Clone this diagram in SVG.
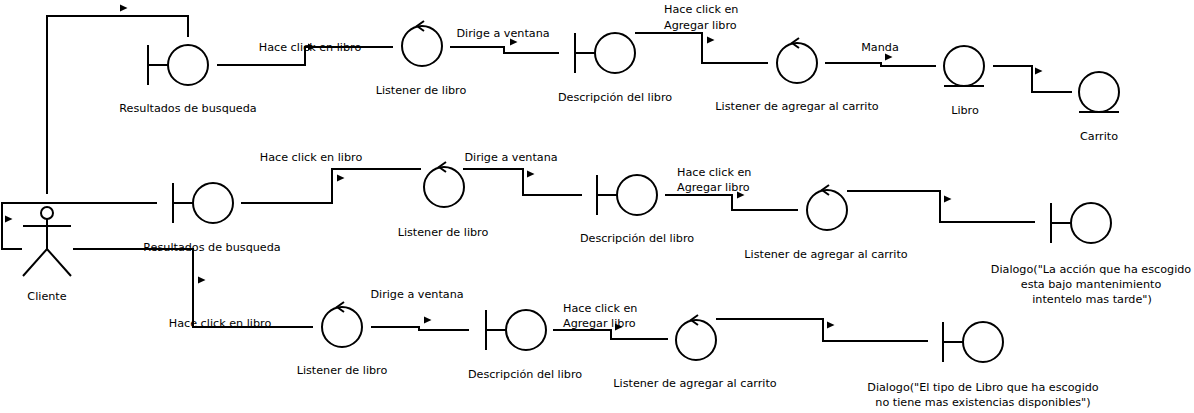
<svg xmlns="http://www.w3.org/2000/svg" xmlns:xlink="http://www.w3.org/1999/xlink" width="1194" height="413" viewBox="0 0 1194 413">
<style>
  .ln{fill:none;stroke:#000;stroke-width:2}
  .sh{fill:none;stroke:#000;stroke-width:2}
  text{font-family:"DejaVu Sans",Verdana,sans-serif;font-size:11.2px;fill:#000}
  .c{text-anchor:middle}
</style>
<defs>
  <path id="ah" d="M0,-3.5 L7.5,0 L0,3.5 Z" fill="#000"/>
</defs>
<rect width="1194" height="413" fill="#fff"/>
<g id="connectors">
  <!-- row 1 -->
  <polyline class="ln" points="47,194 47,16 188,16 188,37"/>
  <use xlink:href="#ah" x="120" y="8"/>
  <polyline class="ln" points="217,65 305,65 305,47 393,47"/>
  <use xlink:href="#ah" x="308" y="47"/>
  <text class="c" x="310" y="51">Hace click en libro</text>
  <polyline class="ln" points="450,47 504,47 504,53 559,53"/>
  <use xlink:href="#ah" x="510" y="42"/>
  <text class="c" x="503" y="37">Dirige a ventana</text>
  <polyline class="ln" points="635,33 702,33 702,63 768,63"/>
  <use xlink:href="#ah" x="707" y="40"/>
  <text x="664" y="13">Hace click en</text>
  <text x="664" y="29">Agregar libro</text>
  <polyline class="ln" points="825,63 881,63 881,66 936,66"/>
  <use xlink:href="#ah" x="885" y="57"/>
  <text class="c" x="880" y="51">Manda</text>
  <polyline class="ln" points="993,66 1032,66 1032,92 1072,92"/>
  <use xlink:href="#ah" x="1035" y="71"/>
  <!-- row 2 -->
  <polyline class="ln" points="157,203 2,203 2,249 22,249"/>
  <use xlink:href="#ah" x="5" y="219"/>
  <polyline class="ln" points="241,203 332,203 332,169 421,169"/>
  <use xlink:href="#ah" x="337" y="178"/>
  <text class="c" x="311" y="161">Hace click en libro</text>
  <polyline class="ln" points="463,169 523,169 523,195 582,195"/>
  <use xlink:href="#ah" x="527" y="174"/>
  <text class="c" x="511" y="161">Dirige a ventana</text>
  <polyline class="ln" points="665,195 732,195 732,210 798,210"/>
  <use xlink:href="#ah" x="737" y="195"/>
  <text x="677" y="176">Hace click en</text>
  <text x="677" y="191">Agregar libro</text>
  <polyline class="ln" points="847,191 940,191 940,222 1035,222"/>
  <use xlink:href="#ah" x="944" y="199"/>
  <!-- row 3 -->
  <polyline class="ln" points="73,249 193,249 193,327 313,327"/>
  <use xlink:href="#ah" x="198" y="280"/>
  <text class="c" x="220" y="327">Hace click en libro</text>
  <polyline class="ln" points="371,327 419,327 419,330 469,330"/>
  <use xlink:href="#ah" x="424" y="320"/>
  <text class="c" x="417" y="298">Dirige a ventana</text>
  <polyline class="ln" points="553,330 611,330 611,339 668,339"/>
  <use xlink:href="#ah" x="615" y="327"/>
  <text x="563" y="312">Hace click en</text>
  <text x="563" y="327">Agregar libro</text>
  <polyline class="ln" points="716,319 823,319 823,341 928,341"/>
  <use xlink:href="#ah" x="827" y="325"/>
</g>
<g id="cliente">
  <circle class="sh" cx="47" cy="213" r="6"/>
  <line class="sh" x1="47" y1="219" x2="47" y2="249"/>
  <line class="sh" x1="23" y1="226" x2="71" y2="226"/>
  <polyline class="sh" points="23,276 47,249 71,276"/>
  <text class="c" x="47" y="300">Cliente</text>
</g>
<g id="resultados1">
  <line class="sh" x1="148" y1="45" x2="148" y2="85"/>
  <line class="sh" x1="148" y1="65" x2="168" y2="65"/>
  <circle class="sh" cx="188" cy="65" r="20"/>
  <text class="c" x="188" y="112">Resultados de busqueda</text>
</g>
<g id="listenerLibro1">
  <circle class="sh" cx="422" cy="46" r="20"/>
  <polyline class="sh" points="424,21 417,26 424,31"/>
  <text class="c" x="421" y="94">Listener de libro</text>
</g>
<g id="descripcion1">
  <line class="sh" x1="575" y1="33" x2="575" y2="73"/>
  <line class="sh" x1="575" y1="53" x2="595" y2="53"/>
  <circle class="sh" cx="615" cy="53" r="20"/>
  <text class="c" x="615" y="101">Descripción del libro</text>
</g>
<g id="listenerAgregar1">
  <circle class="sh" cx="797" cy="63" r="20"/>
  <polyline class="sh" points="799,38 792,43 799,48"/>
  <text class="c" x="797" y="110">Listener de agregar al carrito</text>
</g>
<g id="libro">
  <circle class="sh" cx="964" cy="66" r="20"/>
  <line class="sh" x1="944" y1="86" x2="984" y2="86"/>
  <text class="c" x="965" y="114">Libro</text>
</g>
<g id="carrito">
  <circle class="sh" cx="1099" cy="92" r="20"/>
  <line class="sh" x1="1079" y1="112" x2="1119" y2="112"/>
  <text class="c" x="1099" y="140">Carrito</text>
</g>
<g id="resultados2">
  <line class="sh" x1="173" y1="183" x2="173" y2="223"/>
  <line class="sh" x1="173" y1="203" x2="193" y2="203"/>
  <circle class="sh" cx="213" cy="203" r="20"/>
  <text class="c" x="212" y="251">Resultados de busqueda</text>
</g>
<g id="listenerLibro2">
  <circle class="sh" cx="444" cy="187" r="20"/>
  <polyline class="sh" points="446,162 439,167 446,172"/>
  <text class="c" x="443" y="236">Listener de libro</text>
</g>
<g id="descripcion2">
  <line class="sh" x1="597" y1="175" x2="597" y2="215"/>
  <line class="sh" x1="597" y1="195" x2="617" y2="195"/>
  <circle class="sh" cx="637" cy="195" r="20"/>
  <text class="c" x="637" y="242">Descripción del libro</text>
</g>
<g id="listenerAgregar2">
  <circle class="sh" cx="827" cy="210" r="20"/>
  <polyline class="sh" points="829,185 822,190 829,195"/>
  <text class="c" x="826" y="258">Listener de agregar al carrito</text>
</g>
<g id="dialogo1">
  <line class="sh" x1="1051" y1="203" x2="1051" y2="243"/>
  <line class="sh" x1="1051" y1="223" x2="1071" y2="223"/>
  <circle class="sh" cx="1091" cy="223" r="20"/>
  <text class="c" x="1091" y="273">Dialogo("La acción que ha escogido</text>
  <text class="c" x="1091" y="288">esta bajo mantenimiento</text>
  <text class="c" x="1092" y="303">intentelo mas tarde")</text>
</g>
<g id="listenerLibro3">
  <circle class="sh" cx="342" cy="327" r="20"/>
  <polyline class="sh" points="344,302 337,307 344,312"/>
  <text class="c" x="342" y="374">Listener de libro</text>
</g>
<g id="descripcion3">
  <line class="sh" x1="486" y1="310" x2="486" y2="350"/>
  <line class="sh" x1="486" y1="330" x2="506" y2="330"/>
  <circle class="sh" cx="526" cy="330" r="20"/>
  <text class="c" x="525" y="378">Descripción del libro</text>
</g>
<g id="listenerAgregar3">
  <circle class="sh" cx="696" cy="340" r="20"/>
  <polyline class="sh" points="698,315 691,320 698,325"/>
  <text class="c" x="695" y="387">Listener de agregar al carrito</text>
</g>
<g id="dialogo2">
  <line class="sh" x1="943" y1="322" x2="943" y2="362"/>
  <line class="sh" x1="943" y1="342" x2="963" y2="342"/>
  <circle class="sh" cx="983" cy="342" r="20"/>
  <text class="c" x="983" y="391">Dialogo("El tipo de Libro que ha escogido</text>
  <text class="c" x="983" y="406">no tiene mas existencias disponibles")</text>
</g>
</svg>
